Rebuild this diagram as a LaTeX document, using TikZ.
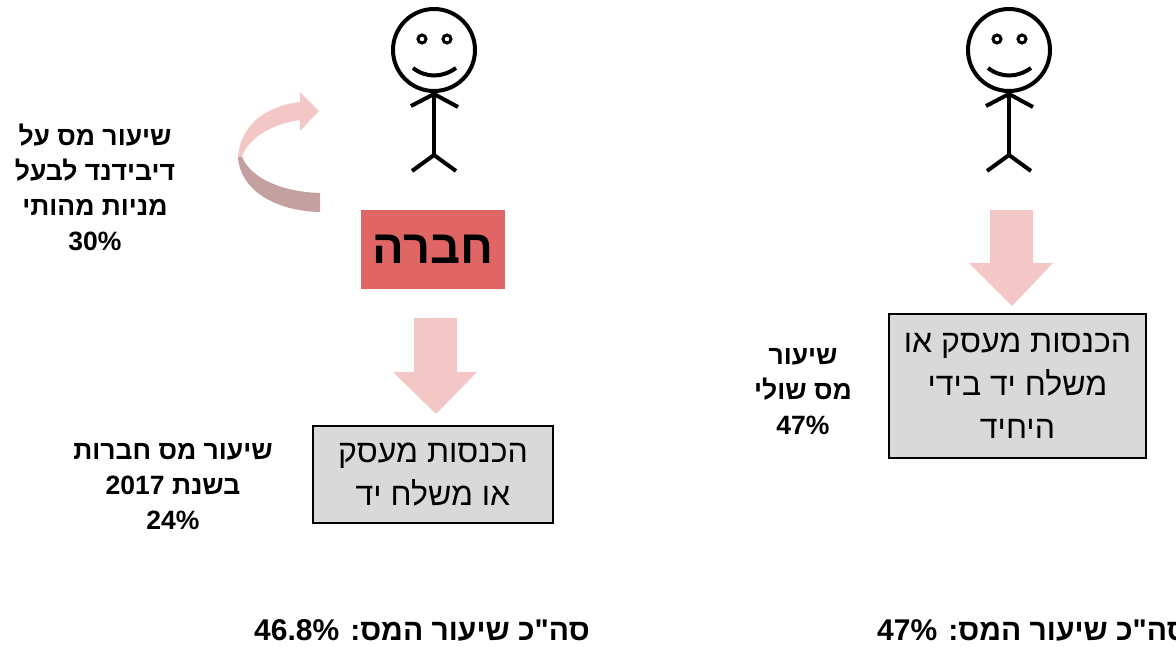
\documentclass[tikz,border=0pt]{standalone}
\usepackage{fontspec}
\newfontfamily\heb[Script=Hebrew]{Liberation Sans}
\TeXXeTstate=1
\newcommand\hebline[1]{\beginR#1\endR}
\definecolor{pinkarrow}{HTML}{F4C7C7}
\definecolor{darkribbon}{HTML}{C4A0A0}
\definecolor{companyred}{HTML}{E06666}
\definecolor{boxgray}{HTML}{D9D9D9}
\begin{document}
\begin{tikzpicture}[x=1pt,y=-1pt,
  limb/.style={line width=4pt},
  stickman/.pic={
    \draw[limb] (0,0) circle[radius=41pt];
    \draw[line width=3pt] (-12,-11) circle[radius=4pt] (13,-11) circle[radius=4pt];
    \draw[limb] (-21,18) .. controls (-8,28) and (8,28) .. (22,18);
    \draw[limb] (0,41) -- (0,105);
    \draw[limb] (-23,56) -- (0,44) -- (24,57);
    \draw[limb] (-22,121) -- (0,105) -- (22,121);
  },
  blockarrow/.style={fill=pinkarrow, draw=none},
  incomebox/.style={draw=black, line width=1.3pt, fill=boxgray, align=center,
    inner sep=0pt, font={\heb\fontsize{32}{43}\selectfont}},
  ratelabel/.style={align=center, inner sep=0pt,
    font={\heb\bfseries\fontsize{26.5}{35}\selectfont}},
  totallabel/.style={inner sep=0pt, font={\heb\bfseries\fontsize{30}{34}\selectfont}}
]
\useasboundingbox (0,0) rectangle (1176,646);
\clip (0,0) rectangle (1176,646);

% the two people
\pic at (434,50) {stickman};
\pic at (1009,50) {stickman};

% the company
\node[fill=companyred, minimum width=144pt, minimum height=79pt, inner sep=0pt,
  font={\heb\bfseries\fontsize{47}{52}\selectfont}] (company) at (433,249.5) {\hebline{חברה}};

% dividend ribbon arrow: lower darker band, upper band with head
\fill[darkribbon] (238,157) .. controls (240,190) and (275,211) .. (320,212)
  -- (320,193) .. controls (285,192) and (252,180) .. (242,157) -- cycle;
\fill[pinkarrow] (238,157) .. controls (240,126) and (265,106) .. (300,102)
  -- (300,92) -- (319,111) -- (300,131) -- (300,120)
  .. controls (272,124) and (248,138) .. (242,157) -- cycle;

% income boxes
\node[incomebox, minimum width=240pt, minimum height=97pt] (corpincome) at (433,474.5)
  {\hebline{הכנסות מעסק}\\ \hebline{או משלח יד}};
\node[incomebox, minimum width=257pt, minimum height=144pt] (selfincome) at (1017.5,386)
  {\hebline{הכנסות מעסק או}\\ \hebline{משלח יד בידי}\\ \hebline{היחיד}};

% block arrows
\fill[blockarrow] (414,318) -- (457,318) -- (457,372) -- (477,372) -- (436,414)
  -- (393,372) -- (414,372) -- cycle;
\fill[blockarrow] (990,210) -- (1033,210) -- (1033,263) -- (1053,263) -- (1012,306)
  -- (969,263) -- (990,263) -- cycle;

% rate labels
\node[ratelabel] (dividendrate) at (95,187)
  {\hebline{שיעור מס על}\\ \hebline{דיבידנד לבעל}\\ \hebline{מניות מהותי}\\ 30\%};
\node[ratelabel] (corprate) at (173,487)
  {\hebline{שיעור מס חברות}\\ \hebline{בשנת \beginL 2017\endL}\\ 24\%};
\node[ratelabel] (marginalrate) at (803,392)
  {\hebline{שיעור}\\ \hebline{מס שולי}\\ 47\%};

% totals
\node[totallabel] (corptotal) at (422,630)
  {\hebline{סה"כ שיעור המס: \beginL 46.8\%\endL}};
\node[totallabel, anchor=west] (selftotal) at (877,630)
  {\hebline{סה"כ שיעור המס: \beginL 47\%\endL}};
\end{tikzpicture}
\end{document}
